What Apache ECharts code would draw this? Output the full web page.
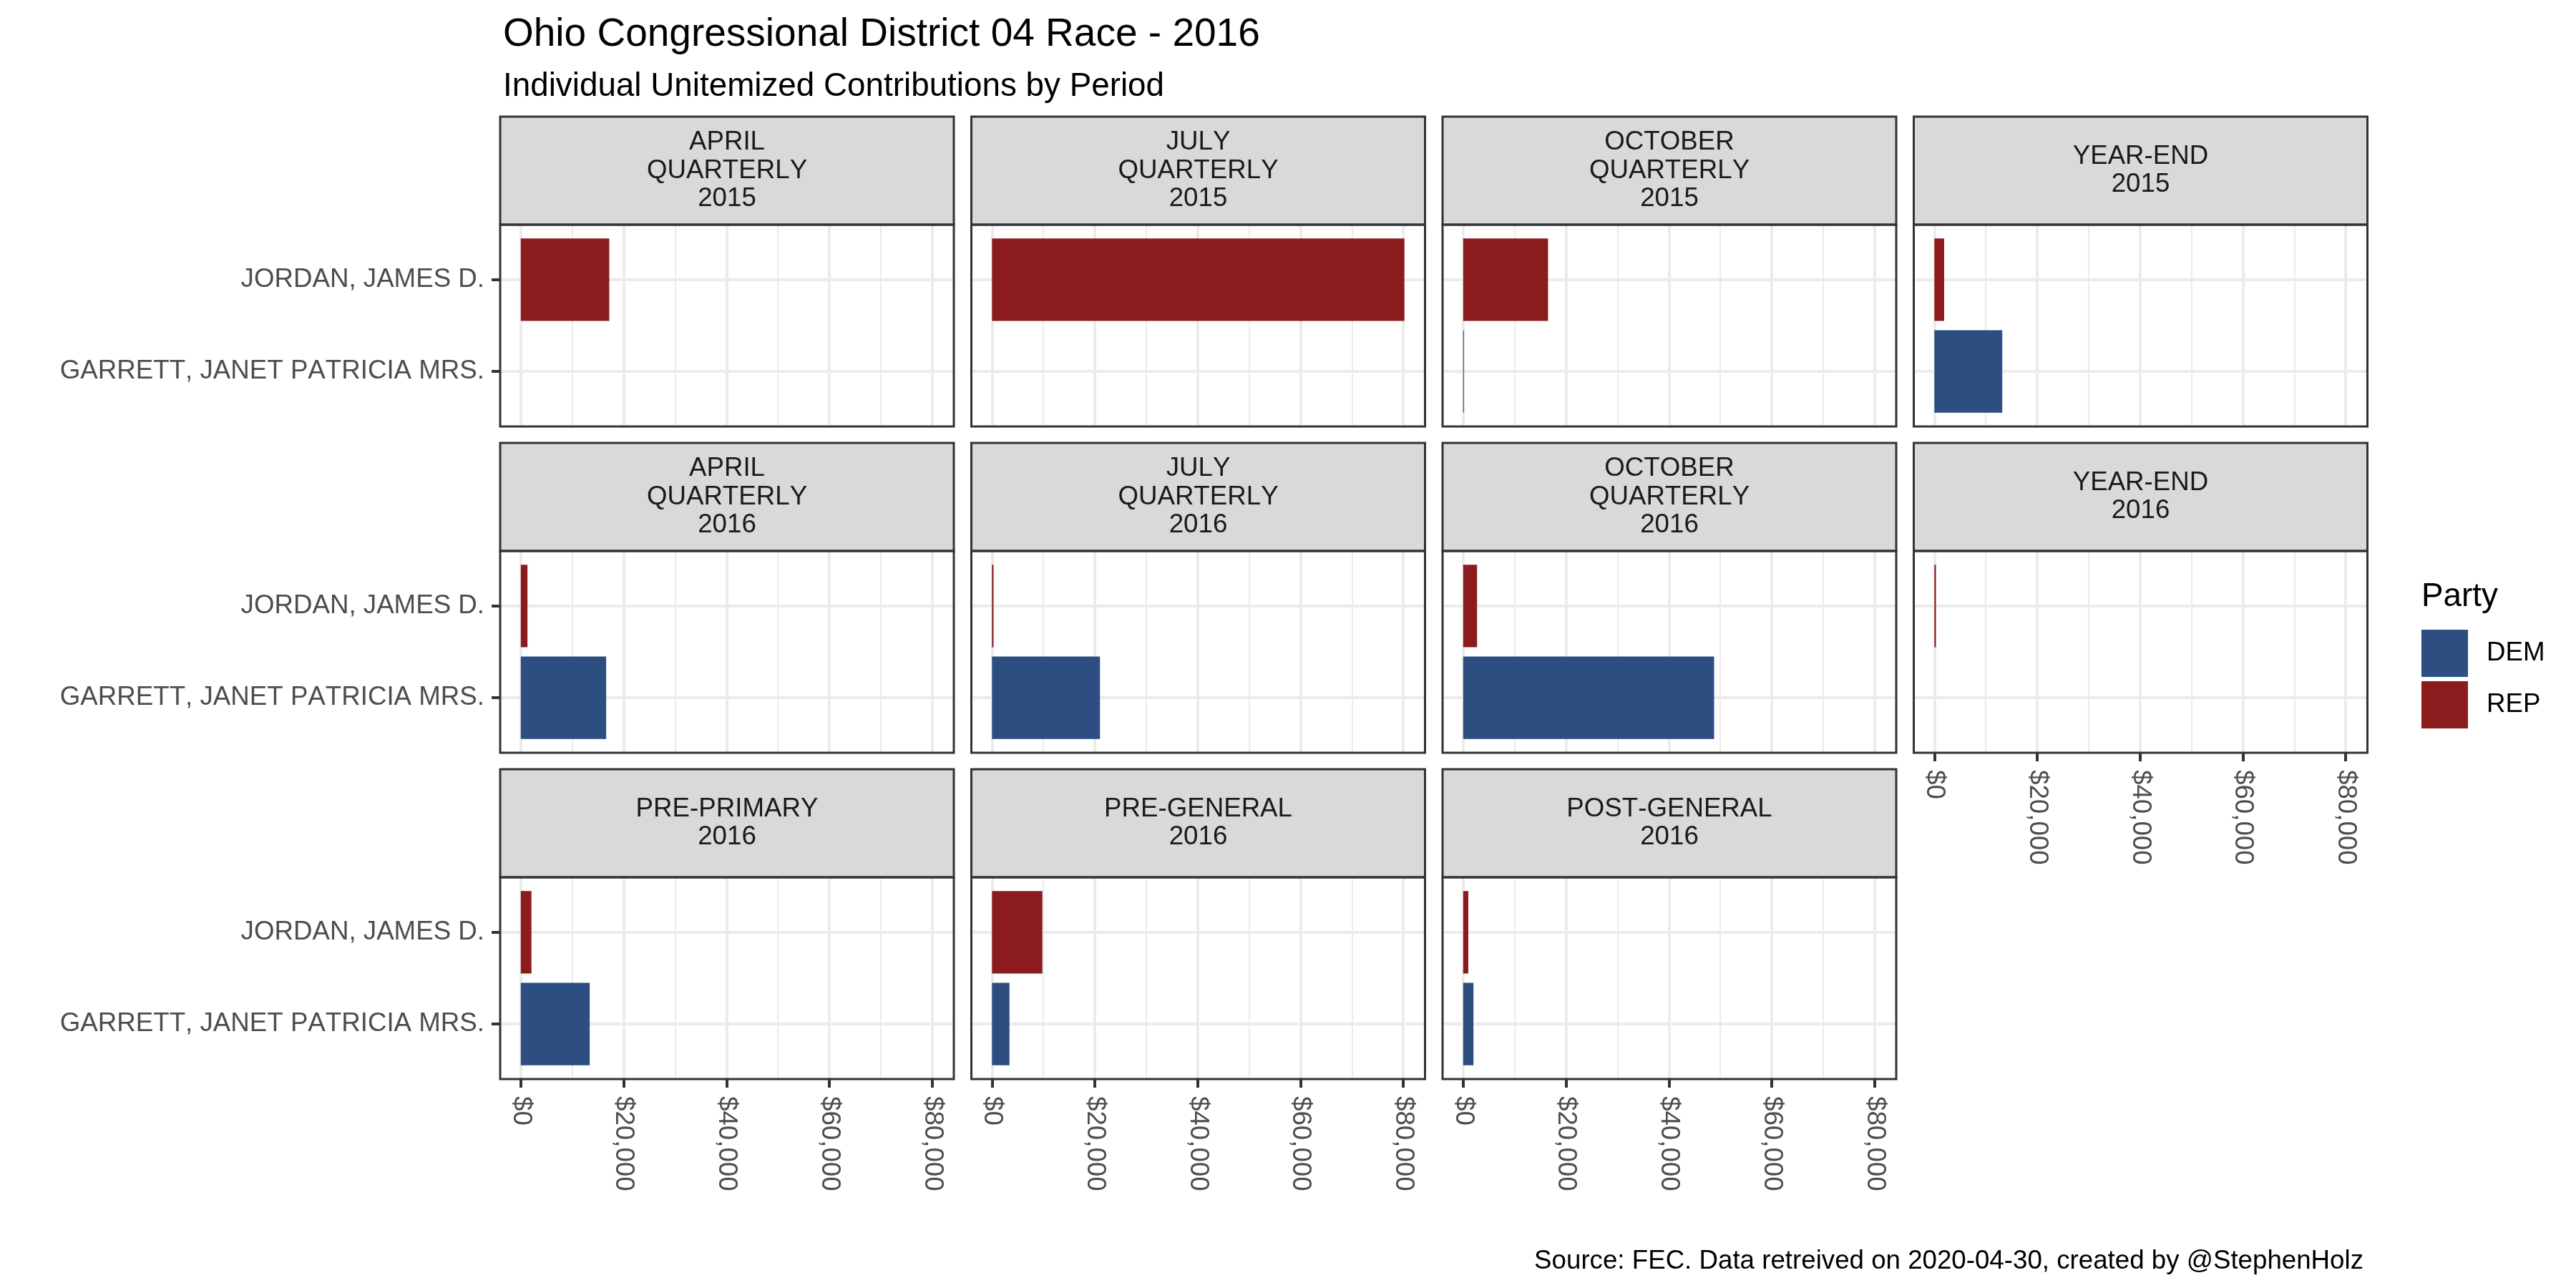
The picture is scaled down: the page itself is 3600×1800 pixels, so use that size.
<!DOCTYPE html>
<html>
<head>
<meta charset="utf-8">
<script src="https://cdn.jsdelivr.net/npm/echarts@6/dist/echarts.min.js"></script>
<style>html,body{margin:0;padding:0;background:#fff;}#c{width:3600px;height:1800px;}</style>
</head>
<body>
<div id="c"></div>
<script>
// ---- data ----
const periods = [
  'APRIL\nQUARTERLY\n2015', 'JULY\nQUARTERLY\n2015', 'OCTOBER\nQUARTERLY\n2015', 'YEAR-END\n2015',
  'APRIL\nQUARTERLY\n2016', 'JULY\nQUARTERLY\n2016', 'OCTOBER\nQUARTERLY\n2016', 'YEAR-END\n2016',
  'PRE-PRIMARY\n2016', 'PRE-GENERAL\n2016', 'POST-GENERAL\n2016'
];
const candidates = ['JORDAN, JAMES D.', 'GARRETT, JANET PATRICIA MRS.'];
const jordanREP  = [17200, 80200, 16500, 1900, 1300, 300, 2700, 300, 2070, 9800, 1000];
const garrettDEM = [null, null, 150, 13200, 16600, 21000, 48800, null, 13400, 3400, 2000];
const majorTicks = [0, 20000, 40000, 60000, 80000];
const minorTicks = [10000, 30000, 50000, 70000];

// render text without kerning (as the reference does)
['fillText', 'strokeText', 'measureText'].forEach(fn => {
  const orig = CanvasRenderingContext2D.prototype[fn];
  CanvasRenderingContext2D.prototype[fn] = function () {
    try { this.fontKerning = 'none'; } catch (e) {}
    return orig.apply(this, arguments);
  };
});

// ---- layout / style ----
const FONT = 'Liberation Sans, Arial, sans-serif';
const PANEL_W = 634, PANEL_H = 282, STRIP_H = 151;
const colLeft = c => 699 + c * 658.5;
const rowTop = r => 314 + r * 456;
const DEM_COLOR = '#2C4E81', REP_COLOR = '#8C1B1E';

const allVals = jordanREP.concat(garrettDEM).filter(v => v != null);
const dataMax = Math.max.apply(null, allVals);
const xMin = -0.05 * dataMax, xMax = 1.05 * dataMax;

function fmtDollar(v) { return '$' + Math.round(v).toLocaleString('en-US'); }

function renderBar(params, api) {
  const v = api.value(0), c = api.value(1);
  const a = api.coord([0, c - 0.45]);
  const b = api.coord([v, c + 0.45]);
  return {
    type: 'rect',
    shape: { x: Math.min(a[0], b[0]), y: Math.min(a[1], b[1]), width: Math.abs(b[0] - a[0]), height: Math.abs(b[1] - a[1]) },
    style: { fill: api.visual('color') }
  };
}

const grids = [], xAxes = [], yAxes = [], series = [], graphics = [];
periods.forEach((p, i) => {
  const r = Math.floor(i / 4), c = i % 4;
  const left = colLeft(c), top = rowTop(r);
  const showX = (r === 2) || (r === 1 && c === 3);
  const showY = c === 0;
  grids.push({ left: left, top: top, width: PANEL_W, height: PANEL_H, show: true, backgroundColor: '#fff', borderWidth: 0 });
  xAxes.push({
    type: 'value', gridIndex: i, min: xMin, max: xMax, position: 'bottom',
    axisLine: { show: false, onZero: false },
    axisTick: { show: showX, customValues: majorTicks, length: 12, lineStyle: { color: '#333333', width: 4 } },
    axisLabel: { show: showX, customValues: majorTicks, rotate: -90, margin: 24, formatter: fmtDollar,
      fontFamily: FONT, fontSize: 36.7, color: '#4D4D4D' },
    splitLine: { show: true, lineStyle: { color: '#EBEBEB', width: 4 } }
  });
  xAxes.push({
    type: 'value', gridIndex: i, min: xMin, max: xMax, position: 'top',
    axisLine: { show: false, onZero: false },
    axisTick: { show: false, customValues: minorTicks },
    axisLabel: { show: false, customValues: minorTicks },
    splitLine: { show: true, lineStyle: { color: '#EBEBEB', width: 2 } }
  });
  yAxes.push({
    type: 'value', gridIndex: i, min: 0.4, max: 2.6, inverse: true, position: 'left',
    axisLine: { show: false, onZero: false },
    axisTick: { show: showY, customValues: [1, 2], length: 12, lineStyle: { color: '#333333', width: 4 } },
    axisLabel: { show: showY, customValues: [1, 2], margin: 22, formatter: v => candidates[Math.round(v) - 1],
      fontFamily: FONT, fontSize: 36.7, color: '#4D4D4D' },
    splitLine: { show: true, lineStyle: { color: '#EBEBEB', width: 4 } }
  });
  series.push({
    type: 'custom', name: 'REP', renderItem: renderBar, clip: true,
    xAxisIndex: 2 * i, yAxisIndex: i, encode: { x: 0, y: 1 },
    itemStyle: { color: REP_COLOR },
    data: jordanREP[i] != null ? [[jordanREP[i], 1]] : []
  });
  series.push({
    type: 'custom', name: 'DEM', renderItem: renderBar, clip: true,
    xAxisIndex: 2 * i, yAxisIndex: i, encode: { x: 0, y: 1 },
    itemStyle: { color: DEM_COLOR },
    data: garrettDEM[i] != null ? [[garrettDEM[i], 2]] : []
  });
  // strip
  graphics.push({
    type: 'rect', z: 90, shape: { x: left, y: top - STRIP_H, width: PANEL_W, height: STRIP_H },
    style: { fill: '#D9D9D9', stroke: '#333333', lineWidth: 3 }
  });
  graphics.push({
    type: 'text', z: 95, x: left + PANEL_W / 2, y: top - STRIP_H / 2,
    style: { text: p, fill: '#1A1A1A', font: '36.7px ' + FONT, align: 'center', verticalAlign: 'middle', lineHeight: 39.5 }
  });
  // panel border
  graphics.push({
    type: 'rect', z: 100, shape: { x: left, y: top, width: PANEL_W, height: PANEL_H },
    style: { fill: 'none', stroke: '#333333', lineWidth: 3 }
  });
});

const chart = echarts.init(document.getElementById('c'), null, { renderer: 'canvas' });
chart.setOption({
  animation: false,
  backgroundColor: '#fff',
  title: [
    { text: 'Ohio Congressional District 04 Race - 2016', left: 698, top: 16,
      textStyle: { fontFamily: FONT, fontSize: 55, fontWeight: 'normal', color: '#000' } },
    { text: 'Individual Unitemized Contributions by Period', left: 698, top: 93,
      textStyle: { fontFamily: FONT, fontSize: 45.8, fontWeight: 'normal', color: '#000' } },
    { text: 'Party', left: 3379, top: 806,
      textStyle: { fontFamily: FONT, fontSize: 45.8, fontWeight: 'normal', color: '#000' } },
    { text: 'Source: FEC. Data retreived on 2020-04-30, created by @StephenHolz', right: 292, top: 1739,
      textStyle: { fontFamily: FONT, fontSize: 36.7, fontWeight: 'normal', color: '#000' } }
  ],
  legend: {
    data: ['DEM', 'REP'], orient: 'vertical', left: 3379, top: 875,
    itemWidth: 65, itemHeight: 66, itemGap: 6, icon: 'rect', selectedMode: false,
    textStyle: { fontFamily: FONT, fontSize: 36.7, color: '#000', padding: [0, 0, 0, 21] }
  },
  grid: grids,
  xAxis: xAxes,
  yAxis: yAxes,
  series: series,
  graphic: graphics
});
</script>
</body>
</html>
